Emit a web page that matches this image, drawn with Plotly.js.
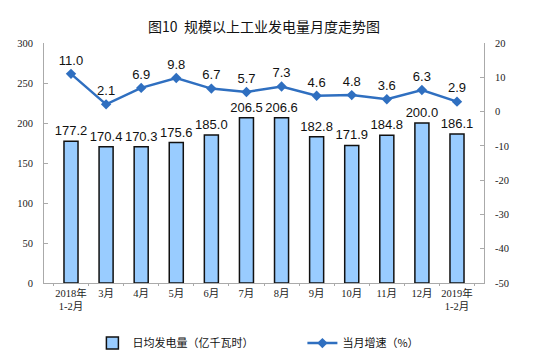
<!DOCTYPE html>
<html><head><meta charset="utf-8">
<script src="https://cdn.plot.ly/plotly-3.0.1.min.js"></script>
<style>html,body{margin:0;padding:0;background:#fff}#chart{width:550px;height:362px}</style>
</head><body><div id="chart"></div>
<script>
const categories = ["2018年<br>1-2月","3月","4月","5月","6月","7月","8月","9月","10月","11月","12月","2019年<br>1-2月"];
const dailyOutput = [177.2,170.4,170.3,175.6,185.0,206.5,206.6,182.8,171.9,184.8,200.0,186.1];
const growthRate = [11.0,2.1,6.9,9.8,6.7,5.7,7.3,4.6,4.8,3.6,6.3,2.9];
const leftTicks = [0,50,100,150,200,250,300];
const rightTicks = [-50,-40,-30,-20,-10,0,10,20];
const rightTickText = ["-50","-40","-30","-20","-10","0","10","20"];
const barName = "日均发电量（亿千瓦时）";
const lineName = "当月增速（%）";
const titleText = "图10  规模以上工业发电量月度走势图";

const tickFont = {family:"Liberation Serif, Noto Sans CJK SC, serif", size:10.5, color:"#222"};
const labelFont = {family:"Liberation Sans, Arial, sans-serif", size:13, color:"#111"};

const traces = [
  {type:"bar", x:categories, y:dailyOutput, name:barName, width:0.4,
   marker:{color:"#99CCFF", line:{color:"#111", width:1.5}},
   text:dailyOutput.map(v=>v.toFixed(1)), textposition:"outside", cliponaxis:false,
   constraintext:"none", textfont:labelFont, outsidetextfont:labelFont, hoverinfo:"skip"},
  {type:"scatter", mode:"lines+markers+text", x:categories, y:growthRate, yaxis:"y2", name:lineName,
   line:{color:"#2F6FC0", width:2.5}, marker:{symbol:"diamond", size:8, color:"#2F6FC0"},
   text:growthRate.map(v=>v.toFixed(1)), textposition:"top center", textfont:labelFont, cliponaxis:false}
];

const layout = {
  width:550, height:362,
  margin:{l:44, r:66, t:43, b:79, autoexpand:false},
  paper_bgcolor:"#fff", plot_bgcolor:"#fff",
  title:{text:titleText, x:0.5, xref:"paper", y:0.925, yanchor:"middle",
         font:{family:"Noto Sans CJK SC, sans-serif", size:14, color:"#111"}},
  showlegend:true,
  legend:{orientation:"h", x:0.11, xanchor:"left", y:-0.19, yanchor:"top",
          font:{family:"Noto Sans CJK SC, sans-serif", size:11, color:"#111"},
          entrywidth:165, traceorder:"normal"},
  bargap:0.6,
  xaxis:{type:"category", showline:true, linecolor:"#aaa", linewidth:1, mirror:false,
         ticks:"outside", tickson:"boundaries", ticklen:2, tickcolor:"#aaa", tickangle:0,
         tickfont:tickFont, showgrid:false, zeroline:false, automargin:false},
  yaxis:{range:[0,300], tickvals:leftTicks, showline:true, linecolor:"#aaa", linewidth:1,
         ticks:"inside", ticklen:4, tickcolor:"#aaa", tickfont:tickFont, showgrid:false,
         zeroline:false, ticklabelstandoff:8, automargin:false},
  yaxis2:{range:[-50,20], overlaying:"y", side:"right", tickvals:rightTicks, ticktext:rightTickText,
          showline:true, linecolor:"#aaa", linewidth:1, ticks:"inside", ticklen:4, tickcolor:"#aaa",
          tickfont:tickFont, showgrid:false, zeroline:false, ticklabelstandoff:8, automargin:false}
};

Plotly.newPlot("chart", traces, layout, {displayModeBar:false, staticPlot:true});
</script></body></html>
